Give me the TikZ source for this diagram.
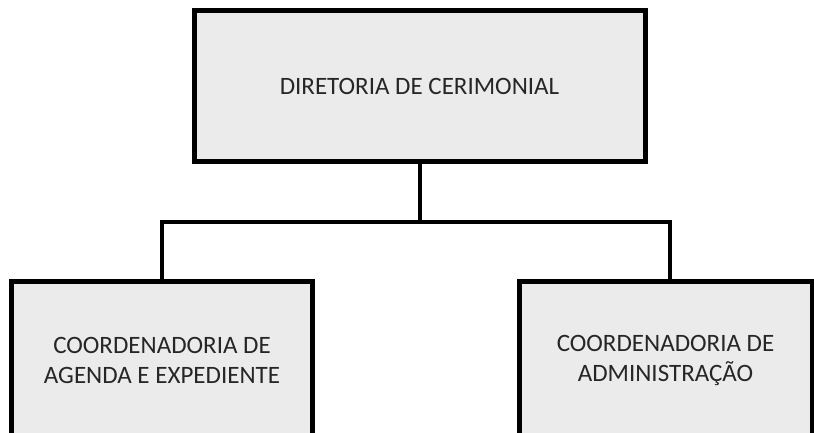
\documentclass[tikz,border=0pt]{standalone}
\usepackage{fontspec}
\setmainfont{Carlito}
\definecolor{boxfill}{HTML}{EBEBEB}
\definecolor{txt}{HTML}{262626}
\begin{document}
\begin{tikzpicture}[x=1pt,y=-1pt,
  orgbox/.style={draw=black, line width=5pt, fill=boxfill, inner sep=0pt,
    text=txt, align=center, font=\fontsize{25}{30}\selectfont},
  link/.style={draw=black, line width=4.5pt}]
\useasboundingbox (0,0) rectangle (814,432);
\clip (0,0) rectangle (814,432);
\node[orgbox, minimum width=451pt, minimum height=151pt] (top) at (419.5,86) {DIRETORIA DE CERIMONIAL};
\node[orgbox, minimum width=301pt, minimum height=157pt] (left) at (162,360) {COORDENADORIA DE\\AGENDA E EXPEDIENTE};
\node[orgbox, minimum width=293pt, minimum height=157pt] (right) at (665.5,360) {COORDENADORIA DE\\ADMINISTRAÇÃO};
\coordinate (hub) at (420,222);
\draw[link] (top.south -| hub) -- (hub);
\draw[link] (left.north) |- (hub) -| (670,0 |- right.north);
\end{tikzpicture}
\end{document}
